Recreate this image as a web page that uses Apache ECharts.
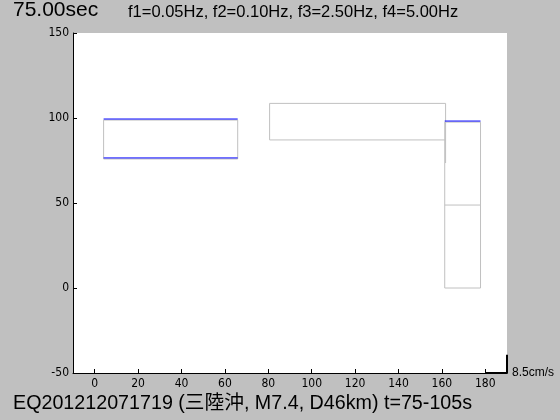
<!DOCTYPE html>
<html>
<head>
<meta charset="utf-8">
<script src="https://cdn.jsdelivr.net/npm/echarts@6/dist/echarts.min.js"></script>
<style>
  html, body { margin: 0; padding: 0; background: #c0c0c0; }
  #chart { width: 560px; height: 420px; }
</style>
</head>
<body>
<div id="chart"></div>
<script>
// tick values
const xTicks = [0, 20, 40, 60, 80, 100, 120, 140, 160, 180];
const yTicks = [-50, 0, 50, 100, 150];

// gray outline traces [x, y]
const traceA = [[4.1, 98.8], [65.9, 98.8], [65.9, 75.9], [4.1, 75.9], [4.1, 98.8]];
const traceB = [[161.7, 73.5], [161.7, 108.6], [80.6, 108.6], [80.6, 87.1], [161.7, 87.1]];
const traceC = [[161.3, 97.6], [177.8, 97.6], [177.8, 0], [161.3, 0], [161.3, 97.6]];
const traceD = [[161.3, 48.8], [177.8, 48.8]];

// blue traces
const blueA = [[4.1, 99.4], [65.9, 99.4]];
const blueB = [[4.1, 76.5], [65.9, 76.5]];
const blueC = [[161.3, 98.2], [177.8, 98.2]];

// scale bar (8.5cm/s)
const scaleBar = [[180, -50], [190, -50], [190, -39.3]];

const labelFont = '"Liberation Sans Narrow", "DejaVu Sans Condensed", "Liberation Sans", sans-serif';
const textFont = '"Liberation Sans", "Noto Sans CJK JP", sans-serif';

function trace(data, color, width) {
  return {
    type: 'line',
    data: data,
    showSymbol: false,
    silent: true,
    animation: false,
    lineStyle: { color: color, width: width },
    z: color === '#0000ff' ? 4 : 3
  };
}

const chart = echarts.init(document.getElementById('chart'));
chart.setOption({
  backgroundColor: '#c0c0c0',
  animation: false,
  grid: {
    left: 73, right: 53, top: 33, bottom: 47,
    show: true, backgroundColor: '#ffffff', borderWidth: 0
  },
  xAxis: {
    type: 'value',
    min: -10, max: 190,
    axisLine: { show: true, onZero: false, lineStyle: { color: '#000', width: 1 } },
    axisTick: { show: true, inside: true, length: 4, customValues: xTicks, lineStyle: { color: '#000' } },
    axisLabel: { customValues: xTicks, color: '#000', fontSize: 12, fontFamily: labelFont, margin: 5 },
    splitLine: { show: false }
  },
  yAxis: {
    type: 'value',
    min: yTicks[0], max: yTicks[yTicks.length - 1], interval: 50,
    axisLine: { show: true, onZero: false, lineStyle: { color: '#000', width: 1 } },
    axisTick: { show: true, inside: true, length: 4, lineStyle: { color: '#000' } },
    axisLabel: { color: '#000', fontSize: 12, fontFamily: labelFont, margin: 4 },
    splitLine: { show: false }
  },
  series: [
    trace(traceA, '#c0c0c0', 1),
    trace(traceB, '#c0c0c0', 1),
    trace(traceC, '#c0c0c0', 1),
    trace(traceD, '#c0c0c0', 1),
    trace(blueA, '#0000ff', 1),
    trace(blueB, '#0000ff', 1),
    trace(blueC, '#0000ff', 1),
    trace(scaleBar, '#000000', 2)
  ],
  graphic: [
    {
      type: 'text', left: 13, top: 0,
      style: { text: '75.00sec', fill: '#000', font: '21px ' + textFont }
    },
    {
      type: 'text', left: 128, top: 4,
      style: { text: 'f1=0.05Hz, f2=0.10Hz, f3=2.50Hz, f4=5.00Hz', fill: '#000', font: '16.5px ' + textFont }
    },
    {
      type: 'text', left: 512, top: 367,
      style: { text: '8.5cm/s', fill: '#000', font: '12px ' + textFont }
    },
    {
      type: 'text', left: 13, top: 394,
      style: { text: 'EQ201212071719 (三陸沖, M7.4, D46km) t=75-105s', fill: '#000', font: '19.7px ' + textFont }
    }
  ]
});
</script>
</body>
</html>
